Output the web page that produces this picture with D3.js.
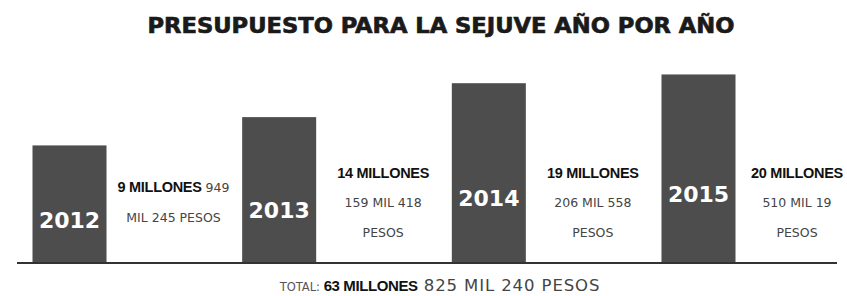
<!DOCTYPE html>
<html>
<head>
<meta charset="utf-8">
<script src="https://cdn.jsdelivr.net/npm/d3@7"></script>
<style>
  body { margin: 0; background: #fff; }
  svg { display: block; }
</style>
</head>
<body>
<svg id="chart" width="847" height="296"></svg>
<script>
'use strict';

// presupuesto anual (millones de pesos)
var years = ['2012', '2013', '2014', '2015'];
var budgets = [9.949245, 14.159418, 19.206558, 20.510019];
// etiquetas: [negrita, resto] por renglón
var labelLines = [
    [['9 MILLONES', ' 949'], ['', 'MIL 245 PESOS']],
    [['14 MILLONES', ''], ['', '159 MIL 418'], ['', 'PESOS']],
    [['19 MILLONES', ''], ['', '206 MIL 558'], ['', 'PESOS']],
    [['20 MILLONES', ''], ['', '510 MIL 19'], ['', 'PESOS']]
];
var title = 'PRESUPUESTO PARA LA SEJUVE AÑO POR AÑO';
var totalParts = ['TOTAL: ', '63 MILLONES', ' 825 MIL 240 PESOS'];

var svg = d3.select('#chart');
var W = 847, baseY = 262;

var x = d3.scaleBand()
    .domain(years)
    .range([32.5, 735.5])
    .paddingInner(0.647)
    .paddingOuter(0);

var y = d3.scaleLinear()
    .domain([-7.4, 21])
    .range([baseY, baseY - 6.72 * 28.4]);

svg.append('text')
    .attr('x', 441)
    .attr('y', 33)
    .attr('text-anchor', 'middle')
    .style('font-family', '"Liberation Sans Narrow", "DejaVu Sans Condensed", sans-serif')
    .style('font-weight', 'bold')
    .style('font-size', '21px')
    .style('fill', '#1a1a1a')
    .style('stroke', '#1a1a1a')
    .style('stroke-width', 0.6)
    .attr('textLength', 587)
    .attr('lengthAdjust', 'spacingAndGlyphs')
    .text(title);

var bars = svg.selectAll('g.bar')
    .data(years)
    .enter().append('g')
    .classed('bar', true);

bars.append('rect')
    .attr('x', function (d) { return x(d); })
    .attr('y', function (d, i) { return y(budgets[i]); })
    .attr('width', x.bandwidth())
    .attr('height', function (d, i) { return baseY - y(budgets[i]); })
    .style('fill', '#4d4d4d');

bars.append('text')
    .attr('x', function (d) { return x(d) + x.bandwidth() / 2; })
    .attr('y', function (d, i) { return baseY - (baseY - y(budgets[i])) * 0.36 + 8; })
    .attr('text-anchor', 'middle')
    .style('font-family', '"DejaVu Sans"')
    .style('font-weight', 'bold')
    .style('font-size', '22px')
    .style('fill', '#fff')
    .text(function (d) { return d; });

// etiquetas a la derecha de cada barra
bars.each(function (d, i) {
    var lines = labelLines[i];
    var cx = Math.min(x(d) + x.bandwidth() + 67, W - 50);
    var lh = 29.5;
    var y0 = 202 - (lines.length - 1) * lh / 2 + 5;
    var t = d3.select(this).append('text')
        .attr('text-anchor', 'middle')
        .style('font-family', '"DejaVu Sans"')
        .style('font-size', '12.5px');
    lines.forEach(function (ln, j) {
        var row = t.append('tspan')
            .attr('x', cx)
            .attr('y', y0 + j * lh);
        if (ln[0]) {
            row.append('tspan')
                .style('font-family', '"Liberation Sans Narrow", "Liberation Sans"')
                .style('font-weight', 'bold')
                .style('font-size', '14.5px')
                .style('fill', '#111')
                .style('letter-spacing', '-0.3px')
                .text(ln[0]);
        }
        if (ln[1]) {
            row.append('tspan')
                .style('fill', '#444')
                .text(ln[1]);
        }
    });
});

svg.append('line')
    .attr('x1', 17)
    .attr('x2', 837)
    .attr('y1', baseY + 1)
    .attr('y2', baseY + 1)
    .style('stroke', '#333')
    .style('stroke-width', 2);

var total = svg.append('text')
    .attr('x', 440)
    .attr('y', 291)
    .attr('text-anchor', 'middle')
    .style('font-family', '"DejaVu Sans"')
    .style('font-size', '16.5px');
total.append('tspan').style('fill', '#555').style('font-size', '11.5px').text(totalParts[0]);
total.append('tspan').style('fill', '#111').style('font-weight', 'bold')
    .style('font-family', '"Liberation Sans Narrow", "Liberation Sans"').style('font-size', '15px')
    .style('letter-spacing', '-0.4px').text(totalParts[1]);
total.append('tspan').style('fill', '#444').style('letter-spacing', '0.9px').text(totalParts[2]);
</script>
</body>
</html>
